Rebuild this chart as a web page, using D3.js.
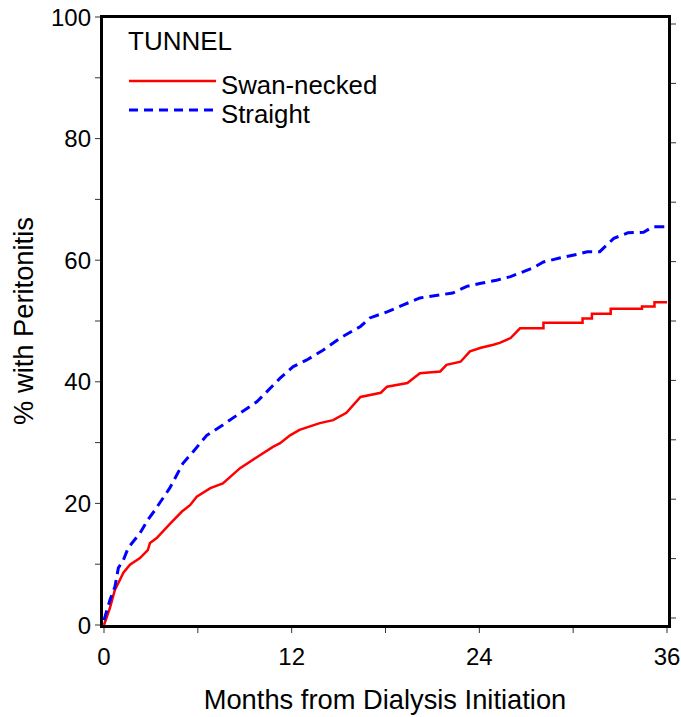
<!DOCTYPE html>
<html><head><meta charset="utf-8">
<script src="https://cdn.jsdelivr.net/npm/d3@7"></script>
<style>body{margin:0;background:#fff}svg{display:block}text{font-family:"Liberation Sans",Arial,sans-serif;fill:#000}</style>
</head><body><svg id="c" width="681" height="717"></svg>
<script>
const swanT = [0,0.38,0.7,0.92,1.24,1.66,2.3,2.8,2.94,3.37,4.2,5.0,5.5,5.93,6.8,7.6,8.7,9.77,10.8,11.26,11.9,12.5,13.8,14.65,15.5,16.4,17.7,18.1,19.4,20.2,21.5,21.9,22.8,23.4,24.1,24.9,25.3,26.0,26.6,28.1,28.1,30.6,30.6,31.2,31.2,32.4,32.4,34.4,34.4,35.2,35.2,36];
const swanV = [0,2.8,5.8,6.9,8.6,9.9,11,12.3,13.5,14.3,16.6,18.7,19.7,21.1,22.5,23.3,25.8,27.6,29.3,29.9,31.2,32.1,33.2,33.7,34.9,37.5,38.2,39.2,39.8,41.4,41.7,42.8,43.3,45,45.6,46.1,46.4,47.2,48.8,48.8,49.7,49.7,50.4,50.4,51.2,51.2,52,52,52.4,52.4,53.1,53.1];
const straightT = [0,0.38,0.7,0.92,1.24,1.55,2.3,2.8,3.26,3.7,4.2,5.05,5.7,6.57,7.6,8.5,9.77,11.26,12.1,12.97,14,15.1,16.4,17,18.1,19.1,20.2,21.5,22.3,23.2,24.1,25.1,26.0,27.4,28.1,29.2,30.3,30.9,31.7,32.6,33.5,34.5,35.1,36];
const straightV = [0.8,4.1,6.3,9.4,10.7,12.7,15.1,17.3,18.9,20.6,22.5,26.6,28.5,31.2,32.9,34.5,36.7,40.6,42.5,43.6,45.2,47.2,49.1,50.5,51.5,52.6,53.8,54.3,54.6,55.7,56.2,56.7,57.3,58.7,59.7,60.4,61,61.4,61.4,63.6,64.5,64.6,65.5,65.5];
const xTicks = [0,6,12,18,24,30,36];
const xTickLabels = ["0","","12","","24","","36"];
const yTicks = [0,10,20,30,40,50,60,70,80,90,100];
const yTickLabels = ["0","","20","","40","","60","","80","","100"];
const seriesNames = ["Swan-necked","Straight"];
const legendTitle = "TUNNEL";
const xTitle = "Months from Dialysis Initiation";
const yTitle = "% with Peritonitis";

const svg = d3.select("#c");
const x = d3.scaleLinear().domain([0,36]).range([104,667]);
const y = d3.scaleLinear().domain([0,100]).range([625,17]);
const yRight = d3.scaleLinear().domain([0,100]).range([618,24]);

// frame
svg.append("rect").attr("x",101.5).attr("y",16.5).attr("width",568).attr("height",610)
  .attr("fill","none").attr("stroke","#000").attr("stroke-width",3);

// left axis
const gl = svg.append("g");
yTicks.forEach((v,i)=>{
  gl.append("line").attr("x1",95).attr("x2",100).attr("y1",y(v)).attr("y2",y(v)).attr("stroke","#333").attr("stroke-width",1);
  if (yTickLabels[i]) gl.append("text").attr("x",91).attr("y",y(v)+8.5).attr("text-anchor","end").attr("font-size",24).text(yTickLabels[i]);
});
// right ticks
yTicks.forEach(v=>{
  svg.append("line").attr("x1",671).attr("x2",676).attr("y1",yRight(v)).attr("y2",yRight(v)).attr("stroke","#333").attr("stroke-width",1);
});
// bottom axis
xTicks.forEach((v,i)=>{
  svg.append("line").attr("x1",x(v)).attr("x2",x(v)).attr("y1",628).attr("y2",633).attr("stroke","#333").attr("stroke-width",1);
  if (xTickLabels[i]) svg.append("text").attr("x",x(v)).attr("y",665).attr("text-anchor","middle").attr("font-size",24).text(xTickLabels[i]);
});

svg.append("text").attr("x",385).attr("y",709).attr("text-anchor","middle").attr("font-size",27.3).text(xTitle);
svg.append("text").attr("transform","translate(33,321) rotate(-90)").attr("text-anchor","middle").attr("font-size",27.3).text(yTitle);

const line = d3.line().x(d=>x(d[0])).y(d=>y(d[1]));
const swan = swanT.map((t,i)=>[t,swanV[i]]);
const straight = straightT.map((t,i)=>[t,straightV[i]]);
svg.append("path").attr("d",line(swan)).attr("fill","none").attr("stroke","#ff0000").attr("stroke-width",2.5);
svg.append("path").attr("d",line(straight)).attr("fill","none").attr("stroke","#0000ff").attr("stroke-width",3).attr("stroke-dasharray","10,6");

// legend
svg.append("text").attr("x",128).attr("y",49.5).attr("font-size",26).text(legendTitle);
svg.append("line").attr("x1",129).attr("x2",216).attr("y1",81).attr("y2",81).attr("stroke","#ff0000").attr("stroke-width",2.5);
svg.append("line").attr("x1",129).attr("x2",216).attr("y1",110).attr("y2",110).attr("stroke","#0000ff").attr("stroke-width",3).attr("stroke-dasharray","9,6");
svg.append("text").attr("x",221).attr("y",94).attr("font-size",25.8).text(seriesNames[0]);
svg.append("text").attr("x",221).attr("y",123).attr("font-size",25.8).text(seriesNames[1]);
</script></body></html>
